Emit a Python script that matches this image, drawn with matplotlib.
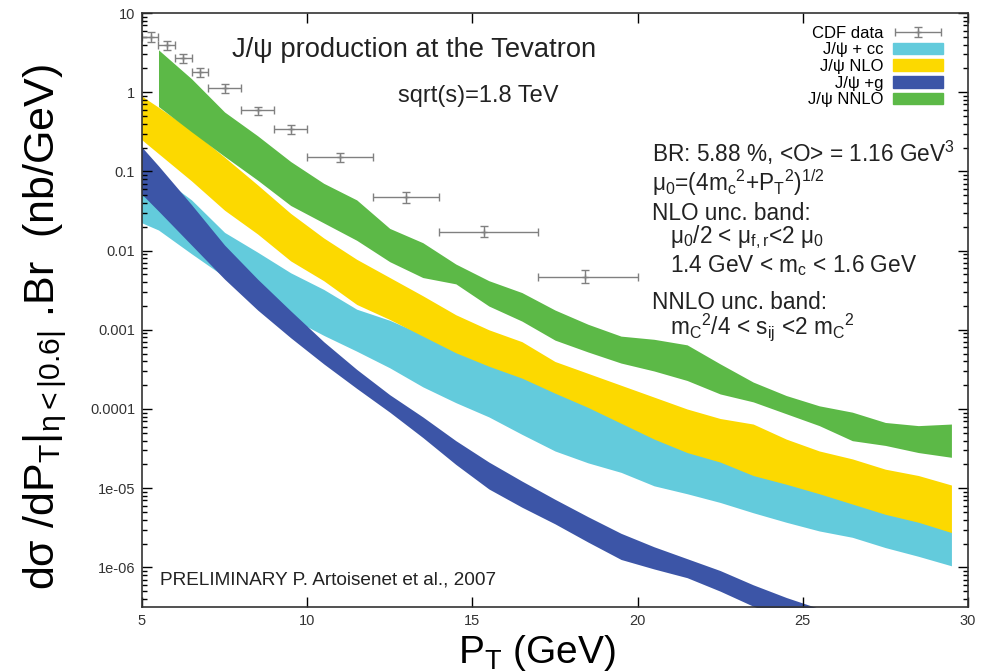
import numpy as np
import matplotlib
matplotlib.use("Agg")
import matplotlib.pyplot as plt
from matplotlib.patches import Patch
from matplotlib.legend_handler import HandlerErrorbar
from matplotlib.ticker import LogLocator, NullFormatter

plt.rcParams['font.family'] = ['Liberation Sans', 'DejaVu Sans']
plt.rcParams['mathtext.fontset'] = 'custom'
plt.rcParams['mathtext.rm'] = 'Liberation Sans'
plt.rcParams['mathtext.it'] = 'Liberation Sans:italic'
plt.rcParams['mathtext.bf'] = 'Liberation Sans:bold'

# CDF data (nb/GeV)
cdf_pt = [5.27, 5.75, 6.25, 6.75, 7.5, 8.5, 9.5, 11.0, 13.0, 15.35, 18.4]
cdf_pt_lo = [5.0, 5.5, 6.0, 6.5, 7.0, 8.0, 9.0, 10.0, 12.0, 14.0, 17.0]
cdf_pt_hi = [5.5, 6.0, 6.5, 7.0, 8.0, 9.0, 10.0, 12.0, 14.0, 17.0, 20.0]
cdf_val = [5.0, 3.9, 2.7, 1.8, 1.13, 0.59, 0.34, 0.15, 0.047, 0.0172, 0.0047]
cdf_lo = [4.3, 3.4, 2.35, 1.55, 0.98, 0.51, 0.295, 0.13, 0.040, 0.0148, 0.0039]
cdf_hi = [5.7, 4.4, 3.0, 2.05, 1.28, 0.66, 0.39, 0.173, 0.055, 0.0205, 0.0057]

# theory bands, log10 of dsigma/dPT (nb/GeV) at each PT node
pt_band = [4.5, 5.5, 6.5, 7.5, 8.5, 9.5, 10.5, 11.5, 12.5, 13.5, 14.5, 15.5, 16.5,
           17.5, 18.5, 19.5, 20.5, 21.5, 22.5, 23.5, 24.5, 25.5, 26.5, 27.5, 28.5, 29.5]
pt_nnlo = pt_band[1:]
pt_g = pt_band[:23]

# J/psi + cc
lg_cc_hi = [-0.82, -1.05, -1.36, -1.77, -2.02, -2.28, -2.49, -2.74, -2.88, -3.06, -3.27, -3.44, -3.59,
            -3.78, -3.96, -4.16, -4.36, -4.53, -4.65, -4.82, -4.93, -5.05, -5.18, -5.31, -5.41, -5.54]
lg_cc_lo = [-1.56, -1.74, -2.04, -2.33, -2.60, -2.85, -3.07, -3.27, -3.48, -3.72, -3.92, -4.10, -4.32,
            -4.53, -4.68, -4.80, -4.97, -5.07, -5.18, -5.31, -5.43, -5.54, -5.62, -5.75, -5.86, -5.98]
# J/psi NLO
lg_nlo_hi = [0.09, -0.19, -0.48, -0.82, -1.17, -1.53, -1.84, -2.11, -2.34, -2.57, -2.81, -3.00, -3.15,
             -3.40, -3.55, -3.70, -3.85, -4.00, -4.12, -4.19, -4.38, -4.53, -4.63, -4.76, -4.84, -4.96]
lg_nlo_lo = [-0.43, -0.775, -1.12, -1.49, -1.79, -2.13, -2.38, -2.68, -2.87, -3.08, -3.29, -3.46, -3.61,
             -3.80, -3.98, -4.18, -4.38, -4.55, -4.67, -4.84, -4.95, -5.07, -5.20, -5.33, -5.43, -5.56]
# J/psi + g
lg_g_hi = [-0.46, -0.93, -1.42, -1.93, -2.36, -2.76, -3.15, -3.50, -3.82, -4.10, -4.40, -4.67,
           -4.91, -5.14, -5.36, -5.57, -5.74, -5.89, -6.04, -6.22, -6.38, -6.52, -6.66]
lg_g_lo = [-1.08, -1.50, -1.93, -2.36, -2.75, -3.10, -3.43, -3.74, -4.04, -4.36, -4.70, -5.01,
           -5.24, -5.45, -5.68, -5.90, -6.02, -6.13, -6.30, -6.49, -6.65, -6.80, -6.95]
# J/psi NNLO
lg_nnlo_hi = [0.535, 0.17, -0.25, -0.55, -0.875, -1.15, -1.36, -1.72, -1.90, -2.17, -2.38, -2.53,
              -2.75, -2.93, -3.08, -3.12, -3.19, -3.43, -3.66, -3.83, -3.96, -4.04, -4.17, -4.21, -4.19]
lg_nnlo_lo = [-0.18, -0.50, -0.81, -1.11, -1.43, -1.65, -1.87, -2.14, -2.34, -2.42, -2.70, -2.89,
              -3.13, -3.28, -3.42, -3.52, -3.64, -3.81, -3.91, -4.06, -4.21, -4.40, -4.46, -4.55, -4.61]

ytick_vals = [10, 1, 0.1, 0.01, 0.001, 0.0001, 1e-05, 1e-06]
ytick_labels = ['10', '1', '0.1', '0.01', '0.001', '0.0001', '1e-05', '1e-06']
xtick_vals = [5, 10, 15, 20, 25, 30]

c_cc = '#63cbdc'
c_nlo = '#fcd900'
c_g = '#3c55a7'
c_nnlo = '#5cb947'
c_data = '#808080'

fig = plt.figure(figsize=(9.88, 6.71), dpi=100)
ax = fig.add_axes([0.1437, 0.0954, 0.836, 0.8852])
ax.set_yscale('log')

bands = [(pt_band, lg_cc_lo, lg_cc_hi, c_cc),
         (pt_band, lg_nlo_lo, lg_nlo_hi, c_nlo),
         (pt_g, lg_g_lo, lg_g_hi, c_g),
         (pt_nnlo, lg_nnlo_lo, lg_nnlo_hi, c_nnlo)]
for xs, lo, hi, col in bands:
    ax.fill_between(xs, 10 ** np.array(lo), 10 ** np.array(hi), color=col, lw=0)

val = np.array(cdf_val)
pt = np.array(cdf_pt)
eb = ax.errorbar(pt, val,
                 xerr=[pt - np.array(cdf_pt_lo), np.array(cdf_pt_hi) - pt],
                 yerr=[val - np.array(cdf_lo), np.array(cdf_hi) - val],
                 fmt='+', ms=4, color=c_data, ecolor=c_data, elinewidth=1.0, capsize=3)

ax.set_xlim(5, 30)
ax.set_ylim(10 ** -6.5, 10)
ax.set_xticks(xtick_vals)
ax.set_yticks(ytick_vals)
ax.set_yticklabels(ytick_labels)
ax.yaxis.set_minor_locator(LogLocator(base=10, subs=np.arange(2, 10)))
ax.yaxis.set_minor_formatter(NullFormatter())
ax.tick_params(which='both', direction='in', top=True, right=True, labelsize=10.5,
               labelcolor='#333333', width=1.0)
ax.tick_params(which='major', length=7, pad=5)
ax.tick_params(which='minor', length=3.5)
for s in ax.spines.values():
    s.set_linewidth(1.2)
    s.set_color('#333333')

ax.set_xlabel('P$_\\mathrm{T}$ (GeV)', fontsize=28)
ax.xaxis.set_label_coords(0.478, -0.043)
fig.text(0.046, 0.513, 'd\u03c3 /dP$_\\mathrm{T}$|$_\\mathrm{\u03b7<|0.6|}$ .Br  (nb/GeV)',
         rotation=90, fontsize=31, ha='center', va='center')

ax.text(0.109, 0.938, 'J/\u03c8 production at the Tevatron', transform=ax.transAxes,
        fontsize=19.7, ha='left', va='center', color='#222222')
ax.text(0.31, 0.860, 'sqrt(s)=1.8 TeV', transform=ax.transAxes,
        fontsize=17, ha='left', va='center', color='#222222')

block = [(0.617, 0.764, 'BR: 5.88 %, <O> = 1.16 GeV$^3$'),
         (0.617, 0.714, '\u03bc$_0$=(4m$_\\mathrm{c}$$^2$+P$_\\mathrm{T}$$^2$)$^{1/2}$'),
         (0.617, 0.663, 'NLO unc. band:'),
         (0.639, 0.622, '\u03bc$_0$/2 < \u03bc$_\\mathrm{f,r}$<2 \u03bc$_0$'),
         (0.639, 0.575, '1.4 GeV < m$_\\mathrm{c}$ < 1.6 GeV'),
         (0.617, 0.513, 'NNLO unc. band:'),
         (0.639, 0.471, 'm$_\\mathrm{C}$$^2$/4 < s$_\\mathrm{ij}$ <2 m$_\\mathrm{C}$$^2$')]
for x, y, s in block:
    ax.text(x, y, s, transform=ax.transAxes, fontsize=16.3, ha='left', va='center',
            color='#222222')

ax.text(0.022, 0.045, 'PRELIMINARY P. Artoisenet et al., 2007', transform=ax.transAxes,
        fontsize=13.7, ha='left', va='center', color='#222222')

handles = [eb, Patch(color=c_cc), Patch(color=c_nlo), Patch(color=c_g), Patch(color=c_nnlo)]
labels = ['CDF data', 'J/\u03c8 + cc', 'J/\u03c8 NLO', 'J/\u03c8 +g', 'J/\u03c8 NNLO']
ax.legend(handles, labels, loc='upper right', bbox_to_anchor=(0.978, 0.99),
          frameon=False, markerfirst=False, fontsize=12, handlelength=3.0,
          handleheight=0.7, labelspacing=0.1, handletextpad=0.6, borderaxespad=0,
          handler_map={eb: HandlerErrorbar(xerr_size=1.4, yerr_size=0.3)})

fig.savefig('out.png', dpi=100)
